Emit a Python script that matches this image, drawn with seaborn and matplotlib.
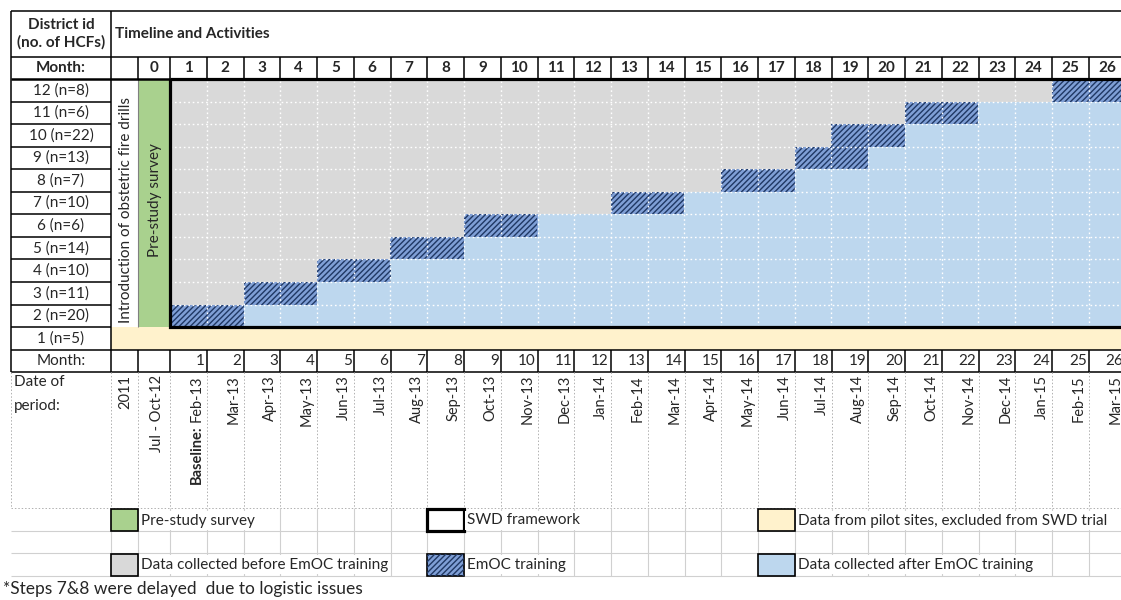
import numpy as np
import pandas as pd
import matplotlib
matplotlib.use("Agg")
import matplotlib.pyplot as plt
import seaborn as sns
from matplotlib.colors import ListedColormap
from matplotlib.patches import Rectangle

# ---------------- data ----------------
district_ids = [12, 11, 10, 9, 8, 7, 6, 5, 4, 3, 2]
district_n = [8, 6, 22, 13, 7, 10, 6, 14, 10, 11, 20]
pilot_id, pilot_n = 1, 5
training_start = [25, 21, 19, 18, 16, 13, 9, 7, 5, 3, 1]   # first EmOC training month
training_len = 2
header_months = list(range(0, 27))
months = list(range(1, 27))
pre_labels = ["2011", "Jul - Oct-12"]
date_labels = ["Feb-13", "Mar-13", "Apr-13", "May-13", "Jun-13", "Jul-13", "Aug-13",
               "Sep-13", "Oct-13", "Nov-13", "Dec-13", "Jan-14", "Feb-14", "Mar-14",
               "Apr-14", "May-14", "Jun-14", "Jul-14", "Aug-14", "Sep-14", "Oct-14",
               "Nov-14", "Dec-14", "Jan-15", "Feb-15", "Mar-15"]
legend_row1 = ["Pre-study survey", "SWD framework", "Data from pilot sites, excluded from SWD trial"]
legend_row3 = ["Data collected before EmOC training", "EmOC training", "Data collected after EmOC training"]
footnote = "*Steps 7&8 were delayed  due to logistic issues"

# ---------------- style ----------------
sns.set_style("white")
plt.rcParams['font.family'] = ['Lato', 'DejaVu Sans']
plt.rcParams['hatch.linewidth'] = 1.0

C_GRAY = '#d9d9d9'
C_BLUE = '#bdd7ee'
C_TRAIN = '#7f9fd6'
C_HATCH = '#203864'
C_GREEN = '#a9d18e'
C_YELLOW = '#fff2cc'
HATCH = '//////'
FS = 11
FS_DATE = 10.5

W, H = 1121, 600
fig = plt.figure(figsize=(W / 100, H / 100), dpi=100)
ax0 = fig.add_axes([0, 0, 1, 1])
ax0.set_xlim(0, W)
ax0.set_ylim(H, 0)
ax0.axis('off')

# layout geometry (pixels)
XL, XD, XI, XM0 = 11, 111, 138, 170
CW = 36.75
bounds = [XM0 + k * CW for k in range(len(months) + 1)]
Y_TOP, Y_H1, Y_H2 = 11, 57, 79
RH = 22.55
row_tops = [Y_H2 + i * RH for i in range(len(district_ids) + 1)]
Y_R1B = 350
Y_MB = 372
Y_LEG = 508


def hl(y, x1, x2, **kw):
    kw.setdefault('color', 'black'); kw.setdefault('lw', 1.1)
    ax0.plot([x1, x2], [y, y], solid_capstyle='butt', **kw)


def vl(x, y1, y2, **kw):
    kw.setdefault('color', 'black'); kw.setdefault('lw', 1.1)
    ax0.plot([x, x], [y1, y2], solid_capstyle='butt', **kw)


# ---------------- main heatmap grid ----------------
state = []
for s in training_start:
    state.append([0 if m < s else (1 if m < s + training_len else 2) for m in months])
df = pd.DataFrame(state, index=district_ids, columns=months)

axh = fig.add_axes([XM0 / W, 1 - row_tops[-1] / H, len(months) * CW / W,
                    (row_tops[-1] - Y_H2) / H])
sns.heatmap(df, ax=axh, cmap=ListedColormap([C_GRAY, C_TRAIN, C_BLUE]),
            vmin=-0.5, vmax=2.5, cbar=False, xticklabels=False, yticklabels=False)
axh.set_xlabel(''); axh.set_ylabel('')
for i, s in enumerate(training_start):
    axh.add_patch(Rectangle((months.index(s), i), training_len, 1, fill=False,
                            hatch=HATCH, edgecolor=C_HATCH, lw=0))
for k in range(1, len(months)):
    axh.axvline(k, color='white', lw=1.0, ls=(0, (1.2, 2)))
for j in range(1, len(district_ids)):
    axh.axhline(j, color='white', lw=1.0, ls=(0, (1.2, 2)))
axh.add_patch(Rectangle((0, 0), len(months), len(district_ids), fill=False,
                        lw=2.3, ec='black', clip_on=False, zorder=5))
axh.axis('off')

# ---------------- side columns ----------------
ax0.add_patch(Rectangle((XI, Y_H2), XM0 - XI, row_tops[-1] - Y_H2, fc=C_GREEN, ec='none'))
ax0.add_patch(Rectangle((XD, row_tops[-1]), W - XD, Y_R1B - row_tops[-1], fc=C_YELLOW, ec='none'))
vl(XI, Y_H2, row_tops[-1], lw=0.8, color='#808080')
ax0.text((XD + XI) / 2 + 1, 210, "Introduction of obstetric fire drills", rotation=90,
         ha='center', va='center', fontsize=FS)
ax0.text((XI + XM0) / 2 + 1, 200, "Pre-study survey", rotation=90,
         ha='center', va='center', fontsize=FS)

# ---------------- header ----------------
hl(Y_TOP, XL, W)
hl(Y_H1, XL, W)
hl(Y_H2, XL, XM0, lw=1.8)
vl(XL, Y_TOP, Y_MB)
vl(XD, Y_TOP, Y_MB)
for x in [XI] + bounds:
    vl(x, Y_H1, Y_H2)
ax0.text((XL + XD) / 2, (Y_TOP + Y_H1) / 2, "District id\n(no. of HCFs)", ha='center',
         va='center', fontsize=FS, fontweight='bold', linespacing=1.3)
ax0.text(XD + 4, (Y_TOP + Y_H1) / 2, "Timeline and Activities", ha='left', va='center',
         fontsize=FS, fontweight='bold')
ax0.text((XL + XD) / 2, (Y_H1 + Y_H2) / 2, "Month:", ha='center', va='center',
         fontsize=FS, fontweight='bold')
centers = [(XI + XM0) / 2] + [(bounds[k] + bounds[k + 1]) / 2 for k in range(len(months))]
for m, cx in zip(header_months, centers):
    ax0.text(cx, (Y_H1 + Y_H2) / 2, str(m), ha='center', va='center', fontsize=FS,
             fontweight='bold')

# district rows
for i, (d, n) in enumerate(zip(district_ids, district_n)):
    hl(row_tops[i + 1], XL, XD)
    ax0.text((XL + XD) / 2, row_tops[i] + RH / 2, f"{d} (n={n})", ha='center',
             va='center', fontsize=FS)
ax0.text((XL + XD) / 2, (row_tops[-1] + Y_R1B) / 2, f"{pilot_id} (n={pilot_n})",
         ha='center', va='center', fontsize=FS)

# bottom month row
hl(Y_R1B, XL, W)
hl(Y_MB, XL, W)
for x in [XI, XM0] + bounds[1:]:
    vl(x, Y_R1B, Y_MB)
ax0.text((XL + XD) / 2, (Y_R1B + Y_MB) / 2, "Month:", ha='center', va='center', fontsize=FS)
for k, m in enumerate(months):
    ax0.text(bounds[k + 1] - 2, (Y_R1B + Y_MB) / 2, str(m), ha='right', va='center',
             fontsize=FS)

# ---------------- date of period ----------------
for x in [XL, XD, XI] + bounds:
    vl(x, Y_MB, Y_LEG, color='#b0b0b0', lw=0.7, ls=(0, (1.5, 2)))
hl(Y_LEG, XL, W, color='#b0b0b0', lw=0.7, ls=(0, (1.5, 2)))
ax0.text(14, 382, "Date of", ha='left', va='center', fontsize=FS)
ax0.text(14, 406, "period:", ha='left', va='center', fontsize=FS)
ytop = Y_MB + 3
ax0.text(XI - 13, ytop, pre_labels[0], rotation=90, ha='center', va='top', fontsize=FS_DATE)
ax0.text(XM0 - 13, ytop, pre_labels[1], rotation=90, ha='center', va='top', fontsize=FS_DATE)
renderer = fig.canvas.get_renderer()
for k, lab in enumerate(date_labels):
    x = bounds[k + 1] - 10
    t = ax0.text(x, ytop, lab, rotation=90, ha='center', va='top', fontsize=FS_DATE)
    if k == 0:
        hpx = t.get_window_extent(renderer).height
        ax0.text(x, ytop + hpx + 4, "Baseline:", rotation=90, ha='center', va='top',
                 fontsize=FS_DATE, fontweight='bold')

# ---------------- legend area ----------------
leg_rows = [Y_LEG, 531, 553, 576]
for y in leg_rows[1:]:
    hl(y, XL, W, color='#d0d0d0', lw=0.8)
for x in [XD, XI] + bounds:
    vl(x, leg_rows[0], leg_rows[-1], color='#d0d0d0', lw=0.8)

box_x = [XD, bounds[7], bounds[16]]
box_w = [XI - XD, CW, CW]
fills1 = [C_GREEN, 'white', C_YELLOW]
lws1 = [1.2, 2.3, 1.2]
fills3 = [C_GRAY, C_TRAIN, C_BLUE]
for bx, bw, fc, lw, lab in zip(box_x, box_w, fills1, lws1, legend_row1):
    ax0.add_patch(Rectangle((bx, leg_rows[0] + 1), bw, leg_rows[1] - leg_rows[0] - 1,
                            fc=fc, ec='black', lw=lw, zorder=4))
    ax0.text(bx + bw + 3, (leg_rows[0] + leg_rows[1]) / 2 + 1, lab, ha='left', va='center',
             fontsize=FS, zorder=4, bbox=dict(fc='white', ec='none', pad=1.5))
for j, (bx, bw, fc, lab) in enumerate(zip(box_x, box_w, fills3, legend_row3)):
    ax0.add_patch(Rectangle((bx, leg_rows[2] + 1), bw, leg_rows[3] - leg_rows[2] - 1,
                            fc=fc, ec='black', lw=1.2, zorder=4))
    if j == 1:
        ax0.add_patch(Rectangle((bx, leg_rows[2] + 1), bw, leg_rows[3] - leg_rows[2] - 1,
                                fill=False, hatch=HATCH, ec=C_HATCH, lw=0, zorder=4))
    ax0.text(bx + bw + 3, (leg_rows[2] + leg_rows[3]) / 2, lab, ha='left', va='center',
             fontsize=FS, zorder=4, bbox=dict(fc='white', ec='none', pad=1.5))

ax0.text(3, 589, footnote, ha='left', va='center', fontsize=12.5)

fig.savefig("out.png", dpi=100)
